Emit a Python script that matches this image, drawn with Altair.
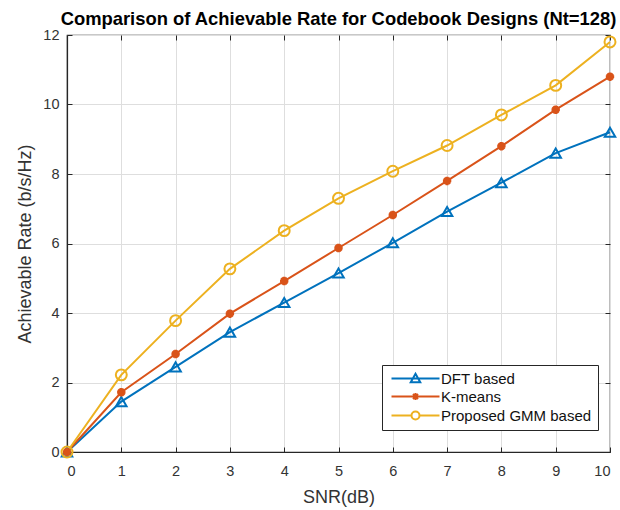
import altair as alt
import pandas as pd

snr = [0, 1, 2, 3, 4, 5, 6, 7, 8, 9, 10]
dft = [0.0, 1.45, 2.45, 3.45, 4.3, 5.15, 6.02, 6.92, 7.75, 8.6, 9.2]
kmeans = [0.0, 1.72, 2.82, 3.98, 4.92, 5.87, 6.82, 7.8, 8.8, 9.85, 10.8]
gmm = [0.0, 2.22, 3.78, 5.27, 6.37, 7.3, 8.08, 8.82, 9.7, 10.55, 11.8]

series_names = ["DFT based", "K-means", "Proposed GMM based"]
series_colors = ["#0072BD", "#D95319", "#EDB120"]
x_ticks = list(range(0, 11))
y_ticks = [0, 2, 4, 6, 8, 10, 12]

rows = []
for name, vals in zip(series_names, [dft, kmeans, gmm]):
    for s, v in zip(snr, vals):
        rows.append({"snr": s, "rate": v, "series": name})
df = pd.DataFrame(rows)

FONT = "Liberation Sans"
AST = "M-1,0H1M0,-1V1M-0.7,-0.7L0.7,0.7M-0.7,0.7L0.7,-0.7"
plot_shapes = ["triangle-up", AST, "circle"]
plot_sizes = [110, 70, 120]
plot_strokes = [2, 2.8, 2]
legend_paths = [
    "M-4.8,0H4.8M0,-0.95L0.95,0.75L-0.95,0.75Z",
    "M-4.8,0H4.8M-0.7,0H0.7M0,-0.7V0.7M-0.5,-0.5L0.5,0.5M-0.5,0.5L0.5,-0.5",
    "M-4.8,0H-0.8M0.8,0H4.8M-0.8,0A0.8,0.8 0 1,0 0.8,0A0.8,0.8 0 1,0 -0.8,0",
]

x_enc = alt.X("snr:Q", scale=alt.Scale(domain=[0, 10], nice=False),
              axis=alt.Axis(values=x_ticks, title="SNR(dB)", format="d",
                            tickSize={"expr": "-5"}, labelPadding=17, titlePadding=11))
y_enc = alt.Y("rate:Q", scale=alt.Scale(domain=[0, 12], nice=False),
              axis=alt.Axis(values=y_ticks, title="Achievable Rate (b/s/Hz)", format="d",
                            tickSize={"expr": "-5"}, labelPadding=13, titlePadding=8))

base = alt.Chart(df)
layers = []
for name, col in zip(series_names, series_colors):
    layers.append(
        base.transform_filter(alt.datum.series == name)
        .mark_line(color=col, strokeWidth=2)
        .encode(x=x_enc, y=y_enc)
    )
for name, col, shp, sz, sw in zip(series_names, series_colors, plot_shapes, plot_sizes, plot_strokes):
    layers.append(
        base.transform_filter(alt.datum.series == name)
        .mark_point(color=col, shape=shp, size=sz, filled=False, strokeWidth=sw, opacity=1)
        .encode(x=x_enc, y=y_enc)
    )

legend_layer = base.transform_filter("false").mark_point(
    filled=False, strokeWidth=2, size=100, opacity=1
).encode(
    x=x_enc, y=y_enc,
    color=alt.Color("series:N", scale=alt.Scale(domain=series_names, range=series_colors),
                    legend=alt.Legend(title=None, orient="none", legendX=315, legendY=330,
                                      strokeColor="#262626", fillColor="white",
                                      padding=6, labelOffset=18, symbolOffset=20,
                                      rowPadding=2, labelFont=FONT, labelFontSize=15,
                                      labelColor="#111", symbolStrokeWidth=2)),
    shape=alt.Shape("series:N", scale=alt.Scale(domain=series_names, range=legend_paths),
                    legend=alt.Legend(title=None, orient="none", legendX=315, legendY=330)),
)
layers.append(legend_layer)

main = alt.layer(*layers)

# top and right box axes with inward ticks (independent scales, same domains)
box_axes = base.transform_filter("false").mark_point().encode(
    x=alt.X("snr:Q", scale=alt.Scale(domain=[0, 10], nice=False),
            axis=alt.Axis(orient="top", values=x_ticks, labels=False, title=None,
                          grid=False, domain=False, tickSize={"expr": "-5"})),
    y=alt.Y("rate:Q", scale=alt.Scale(domain=[0, 12], nice=False),
            axis=alt.Axis(orient="right", values=y_ticks, labels=False, title=None,
                          grid=False, domain=False, tickSize={"expr": "-5"})),
)

chart = alt.layer(main, box_axes).resolve_scale(
    x="independent", y="independent"
).properties(
    width=543, height=417,
    title=alt.TitleParams("Comparison of Achievable Rate for Codebook Designs (Nt=128)",
                          font=FONT, fontSize=18.4, fontWeight="bold", color="#000",
                          anchor="middle", offset=-1.5),
    autosize=alt.AutoSizeParams(type="none"),
    padding={"left": 67, "top": 35, "right": 10, "bottom": 58},
).configure_view(stroke="#262626", strokeWidth=1.2).configure_axis(
    gridColor="#dedede", gridWidth=1, domainColor="#262626", domainWidth=1.2,
    tickColor="#262626", labelFont=FONT, labelFontSize=14.5, labelColor="#333",
    titleFont=FONT, titleFontSize=18, titleFontWeight="normal", titleColor="#333",
)

chart.save("out.html", embed_options={"renderer": "svg", "actions": False})
